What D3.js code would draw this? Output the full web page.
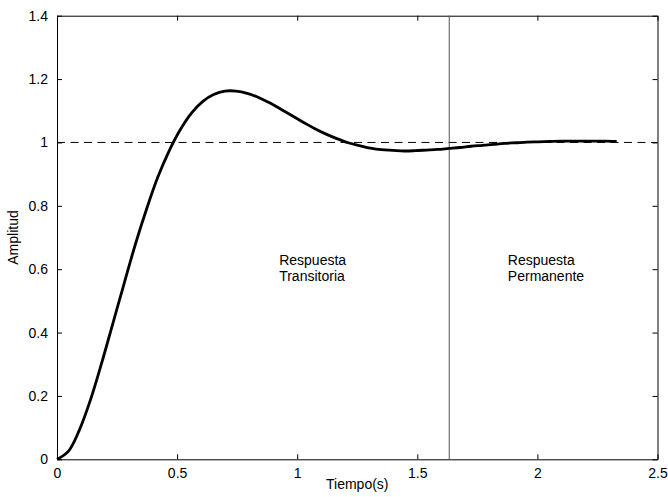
<!DOCTYPE html>
<html>
<head>
<meta charset="utf-8">
<script src="https://cdn.jsdelivr.net/npm/d3@7"></script>
<style>
  body { margin: 0; background: #fff; }
  svg { display: block; }
  text { font-family: "Liberation Sans", Arial, Helvetica, sans-serif; font-size: 14px; fill: #000; }
</style>
</head>
<body>
<svg width="668" height="497"></svg>
<script>
// tiempo (s) y amplitud
var tiempo = [0, 0.047, 0.093, 0.140, 0.186, 0.233, 0.280, 0.326, 0.373, 0.419,
    0.466, 0.513, 0.559, 0.606, 0.652, 0.699, 0.746, 0.792, 0.839, 0.885,
    0.932, 0.979, 1.025, 1.072, 1.118, 1.165, 1.212, 1.258, 1.305, 1.351,
    1.398, 1.445, 1.491, 1.538, 1.584, 1.631, 1.678, 1.724, 1.771, 1.817,
    1.864, 1.911, 1.957, 2.004, 2.050, 2.097, 2.144, 2.190, 2.237, 2.283, 2.330];
var amplitud = [0, 0.025, 0.092, 0.189, 0.304, 0.430, 0.556, 0.678, 0.790, 0.889,
    0.972, 1.040, 1.092, 1.129, 1.151, 1.162, 1.162, 1.155, 1.142, 1.125,
    1.105, 1.084, 1.064, 1.044, 1.027, 1.012, 0.999, 0.990, 0.982, 0.977,
    0.975, 0.973, 0.974, 0.976, 0.978, 0.981, 0.984, 0.988, 0.991, 0.994,
    0.997, 0.999, 1.001, 1.002, 1.003, 1.004, 1.004, 1.004, 1.004, 1.004, 1.003];
var xTicks = [0, 0.5, 1, 1.5, 2, 2.5];
var yTicks = [0, 0.2, 0.4, 0.6, 0.8, 1, 1.2, 1.4];
var referencia = 1;
var tLimite = 1.633;
var etiquetas = [
    {t: 0.925, a: 0.612, lineas: ["Respuesta", "Transitoria"]},
    {t: 1.877, a: 0.613, lineas: ["Respuesta", "Permanente"]}
];

var margin = {top: 15.7, right: 10.5, bottom: 37.7, left: 57};
var width = 668 - margin.left - margin.right;
var height = 497 - margin.top - margin.bottom;

var x = d3.scaleLinear().domain([0, 2.5]).range([0, width]);
var y = d3.scaleLinear().domain([0, 1.4]).range([height, 0]);

var svg = d3.select("svg")
    .append("g")
    .attr("transform", "translate(" + margin.left + "," + margin.top + ")");

var fmt = function(d) { return d3.format("~g")(d); };

// ticks en los cuatro lados (estilo caja)
var ax = [
    {g: d3.axisBottom(x).tickValues(xTicks).tickSizeInner(-5).tickSizeOuter(0).tickPadding(9).tickFormat(fmt), t: "translate(0," + height + ")"},
    {g: d3.axisTop(x).tickValues(xTicks).tickSizeInner(-5).tickSizeOuter(0).tickFormat(""), t: "translate(0,0)"},
    {g: d3.axisLeft(y).tickValues(yTicks).tickSizeInner(-5).tickSizeOuter(0).tickPadding(9).tickFormat(fmt), t: "translate(0,0)"},
    {g: d3.axisRight(y).tickValues(yTicks).tickSizeInner(-5).tickSizeOuter(0).tickFormat(""), t: "translate(" + width + ",0)"}
];
ax.forEach(function(a) {
    var g = svg.append("g").attr("transform", a.t).call(a.g);
    g.selectAll("path").attr("stroke", "#000").attr("stroke-width", 1);
    g.selectAll("line").attr("stroke", "#000").attr("stroke-width", 1);
    g.attr("font-size", null).attr("font-family", null);
});

// linea de referencia
svg.append("line")
    .attr("x1", x(0)).attr("x2", x(2.5))
    .attr("y1", y(referencia)).attr("y2", y(referencia))
    .attr("stroke", "#000").attr("stroke-width", 1)
    .attr("stroke-dasharray", "8,5.5");

// limite transitoria / permanente
svg.append("line")
    .attr("x1", x(tLimite)).attr("x2", x(tLimite))
    .attr("y1", y(0)).attr("y2", y(1.4))
    .attr("stroke", "#555").attr("stroke-width", 1);

var line = d3.line()
    .x(function(d, i) { return x(tiempo[i]); })
    .y(function(d) { return y(d); })
    .curve(d3.curveCatmullRom.alpha(0.5));

svg.append("path")
    .datum(amplitud)
    .attr("d", line)
    .attr("fill", "none")
    .attr("stroke", "#000")
    .attr("stroke-width", 2.8)
    .attr("stroke-linejoin", "round");

etiquetas.forEach(function(e) {
    var t = svg.append("text").attr("x", x(e.t)).attr("y", y(e.a));
    e.lineas.forEach(function(l, i) {
        t.append("tspan").attr("x", x(e.t)).attr("dy", i === 0 ? 0 : 16).text(l);
    });
});

svg.append("text")
    .attr("x", width / 2)
    .attr("y", height + 30)
    .attr("text-anchor", "middle")
    .text("Tiempo(s)");

svg.append("text")
    .attr("transform", "translate(" + (-39) + "," + (height / 2) + ") rotate(-90)")
    .attr("text-anchor", "middle")
    .text("Amplitud");
</script>
</body>
</html>
